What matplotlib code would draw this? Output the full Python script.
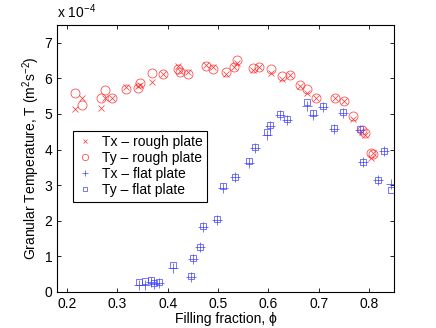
import matplotlib
matplotlib.use("Agg")
import matplotlib.pyplot as plt

plt.rcParams['font.family'] = ['Liberation Sans', 'DejaVu Sans']
plt.rcParams['mathtext.fontset'] = 'custom'
plt.rcParams['mathtext.rm'] = 'Liberation Sans'
plt.rcParams['mathtext.it'] = 'Liberation Sans'

# rough plate
rough_phi = [0.215, 0.230, 0.267, 0.275, 0.290, 0.317, 0.341, 0.345, 0.368, 0.390,
             0.420, 0.425, 0.441, 0.475, 0.490, 0.515, 0.531, 0.537, 0.570, 0.581,
             0.605, 0.627, 0.643, 0.663, 0.677, 0.695, 0.733, 0.750, 0.769, 0.787,
             0.792, 0.803, 0.808]
rough_tx = [5.13, 5.44, 5.16, 5.45, 5.46, 5.75, 5.78, 5.80, 5.90, 6.13,
            6.36, 6.20, 6.19, 6.38, 6.33, 6.12, 6.33, 6.42, 6.24, 6.33,
            6.16, 5.98, 6.09, 5.79, 5.58, 5.44, 5.44, 5.37, 4.87, 4.50,
            4.40, 3.75, 3.90]
rough_ty = [5.60, 5.25, 5.44, 5.67, 5.44, 5.70, 5.74, 5.86, 6.15, 6.12,
            6.27, 6.17, 6.12, 6.34, 6.26, 6.19, 6.33, 6.52, 6.30, 6.33,
            6.26, 6.07, 6.09, 5.81, 5.69, 5.44, 5.44, 5.35, 4.94, 4.55,
            4.46, 3.91, 3.88]

# flat plate
flat_phi = [0.343, 0.355, 0.366, 0.372, 0.383, 0.410, 0.447, 0.450, 0.465, 0.470,
            0.498, 0.510, 0.533, 0.562, 0.574, 0.597, 0.604, 0.623, 0.637, 0.677,
            0.689, 0.708, 0.731, 0.749, 0.782, 0.789, 0.818, 0.830, 0.843]
flat_tx = [0.20, 0.20, 0.28, 0.22, 0.24, 0.66, 0.42, 0.92, 1.25, 1.83,
           2.02, 2.93, 3.22, 3.62, 4.04, 4.42, 4.66, 4.98, 4.84, 5.22,
           4.98, 5.20, 4.58, 5.02, 4.55, 3.66, 3.15, 3.97, 3.02]
flat_ty = [0.28, 0.30, 0.33, 0.25, 0.28, 0.76, 0.45, 0.94, 1.27, 1.85,
           2.06, 2.97, 3.24, 3.67, 4.08, 4.48, 4.68, 5.00, 4.86, 5.33,
           5.02, 5.22, 4.60, 5.06, 4.57, 3.66, 3.15, 3.97, 2.87]

labels = ['Tx \u2013 rough plate', 'Ty \u2013 rough plate',
          'Tx \u2013 flat plate', 'Ty \u2013 flat plate']
x_ticks = [0.2, 0.3, 0.4, 0.5, 0.6, 0.7, 0.8]
y_ticks = [0, 1, 2, 3, 4, 5, 6, 7]

fig = plt.figure(figsize=(4.36, 3.28), dpi=100)
ax = fig.add_axes([0.131, 0.110, 0.773, 0.814])

lw = 0.5
red = '#ff3030'
blue = '#4040ff'
ax.plot(rough_phi, rough_tx, 'x', color=red, ms=5, mew=lw, label=labels[0])
ax.plot(rough_phi, rough_ty, 'o', color=red, mfc='none', ms=6.5, mew=lw, label=labels[1])
ax.plot(flat_phi, flat_tx, '+', color=blue, ms=7, mew=lw, label=labels[2])
ax.plot(flat_phi, flat_ty, 's', color=blue, mfc='none', ms=5, mew=lw, label=labels[3])

ax.set_xlim(0.18, 0.85)
ax.set_ylim(0, 7.5)
ax.set_xticks(x_ticks)
ax.set_xticklabels([f'{v:g}' for v in x_ticks])
ax.set_yticks(y_ticks)
ax.set_yticklabels([f'{v:g}' for v in y_ticks])
ax.tick_params(direction='in', top=True, right=True, labelsize=10, length=3, width=0.6)
for s in ax.spines.values():
    s.set_linewidth(0.8)

ax.set_xlabel('Filling fraction, \u03d5', fontsize=10, labelpad=1)
ax.set_ylabel('Granular Temperature, T (m$^2$s$^{-2}$)', fontsize=10)
ax.yaxis.set_label_coords(-0.045, 0.5)
ax.text(0.0, 1.015, 'x 10$^{-4}$', transform=ax.transAxes, fontsize=10, ha='left', va='bottom')

leg = ax.legend(loc='upper left', bbox_to_anchor=(0.047, 0.603), fontsize=10,
                frameon=True, fancybox=False, edgecolor='black', framealpha=1,
                handlelength=1.2, handletextpad=0.6, borderpad=0.3, labelspacing=0.15,
                borderaxespad=0, markerscale=0.7)
leg.get_frame().set_linewidth(0.8)

fig.savefig('out.png', dpi=100)
